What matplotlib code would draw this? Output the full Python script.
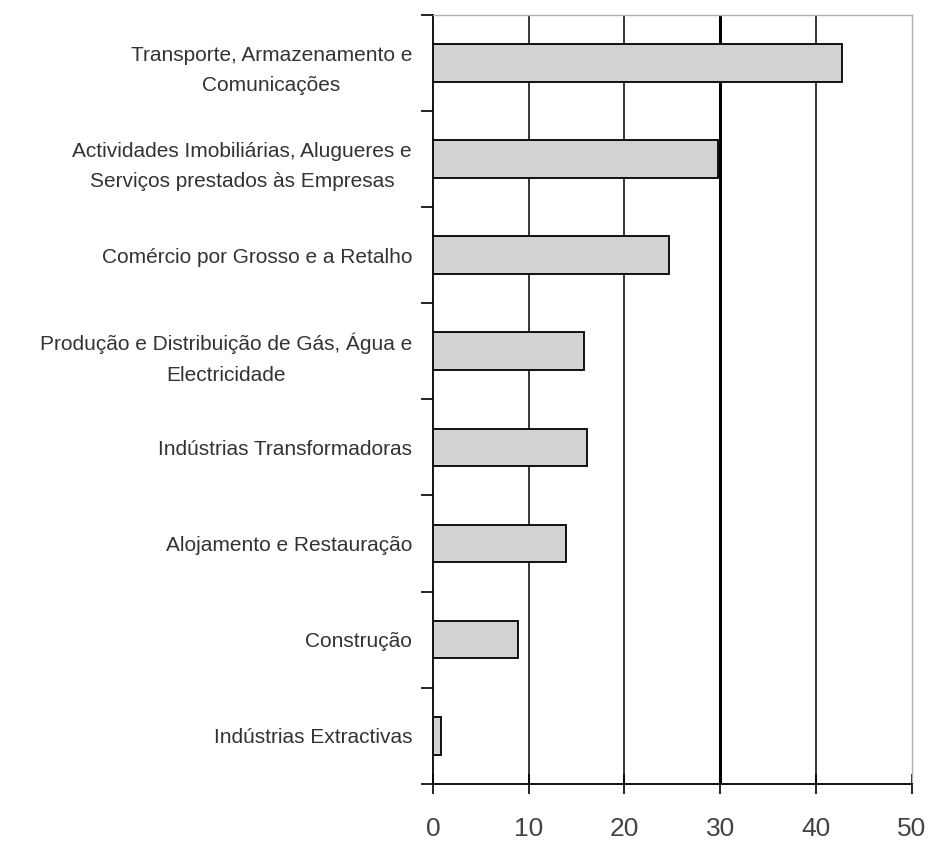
import matplotlib.pyplot as plt

# Sectores de actividade e respectivos valores
sectores = [
    'Transporte, Armazenamento e\nComunicações',
    'Actividades Imobiliárias, Alugueres e\nServiços prestados às Empresas',
    'Comércio por Grosso e a Retalho',
    'Produção e Distribuição de Gás, Água e\nElectricidade',
    'Indústrias Transformadoras',
    'Alojamento e Restauração',
    'Construção',
    'Indústrias Extractivas',
]
valores = [42.7, 29.8, 24.7, 15.8, 16.1, 13.9, 8.9, 0.8]
escala = [0, 10, 20, 30, 40, 50]

plt.rcParams['font.family'] = ['Liberation Sans', 'DejaVu Sans']

fig = plt.figure(figsize=(9.35, 8.42), dpi=100)
ax = fig.add_axes([0.463, 0.069, 0.512, 0.9135])

pos = list(range(len(sectores)))
ax.barh(pos, valores, height=0.39, color='#d2d2d2', edgecolor='black',
        linewidth=1.3, zorder=3)

ax.set_xlim(0, 50)
ax.set_ylim(len(sectores) - 0.5, -0.5)

# grelha vertical
for v in escala[1:-1]:
    ax.axvline(v, color='black', linewidth=2.2 if v == 30 else 1.1, zorder=1)

ax.set_xticks(escala)
ax.set_xticklabels([str(v) for v in escala], fontsize=19, color='#444444')
ax.tick_params(axis='x', direction='inout', length=14, width=1.2, pad=17)

ax.set_yticks(pos)
ax.set_yticklabels(sectores, fontsize=15, color='#333333',
                   multialignment='center', linespacing=1.75)
ax.set_yticks([p - 0.5 for p in pos] + [len(sectores) - 0.5], minor=True)
ax.tick_params(axis='y', which='major', length=0, pad=15)
ax.tick_params(axis='y', which='minor', direction='out', length=9, width=1.2)

for lado in ['top', 'right']:
    ax.spines[lado].set_color('#b0b0b0')
    ax.spines[lado].set_linewidth(1.0)
for lado in ['left', 'bottom']:
    ax.spines[lado].set_color('black')
    ax.spines[lado].set_linewidth(1.3)

fig.savefig('out.png', dpi=100, facecolor='white')
